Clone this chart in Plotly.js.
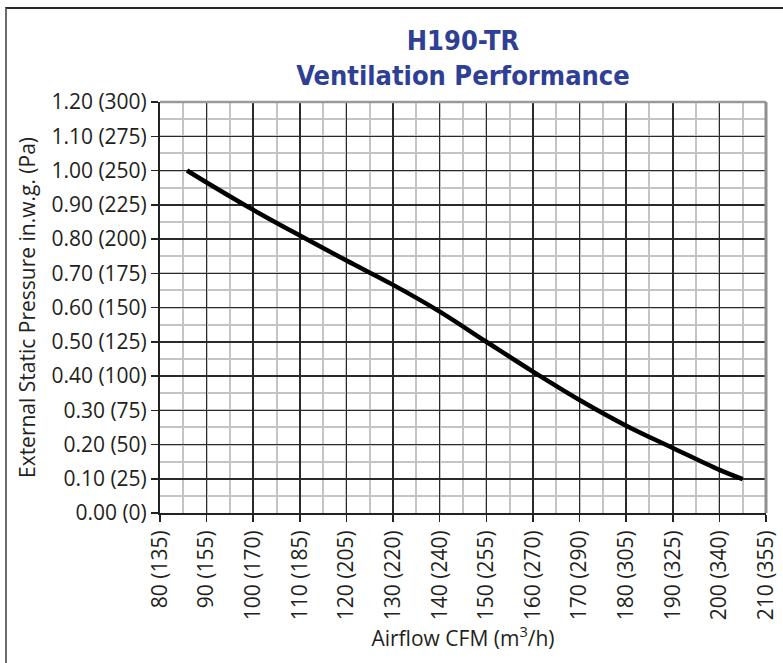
<!DOCTYPE html>
<html>
<head>
<meta charset="utf-8">
<script src="https://cdn.plot.ly/plotly-3.0.1.min.js"></script>
<style>
  html, body { margin: 0; padding: 0; background: #fff; }
  #chart { width: 783px; height: 663px; }
  #frame { position: absolute; left: 5px; top: 7px; width: 800px; height: 700px;
           border-left: 2px solid #6b6b6b; border-top: 2px solid #2a2a2a; pointer-events: none; }
</style>
</head>
<body>
<div id="chart"></div>
<div id="frame"></div>
<script>
// Data
const airflowCFM = [85.8, 90, 100, 110, 120, 130, 140, 150, 160, 170, 180, 190, 200, 205];
const staticPressure = [1.00, 0.965, 0.885, 0.81, 0.737, 0.666, 0.588, 0.50, 0.413, 0.33, 0.255, 0.19, 0.126, 0.099];

const xTickVals = [80, 90, 100, 110, 120, 130, 140, 150, 160, 170, 180, 190, 200, 210];
const xTickText = ['80 (135)', '90 (155)', '100 (170)', '110 (185)', '120 (205)', '130 (220)', '140 (240)',
                   '150 (255)', '160 (270)', '170 (290)', '180 (305)', '190 (325)', '200 (340)', '210 (355)'];
const yTickVals = [0, 0.1, 0.2, 0.3, 0.4, 0.5, 0.6, 0.7, 0.8, 0.9, 1.0, 1.1, 1.2];
const yTickText = ['0.00 (0)', '0.10 (25)', '0.20 (50)', '0.30 (75)', '0.40 (100)', '0.50 (125)', '0.60 (150)',
                   '0.70 (175)', '0.80 (200)', '0.90 (225)', '1.00 (250)', '1.10 (275)', '1.20 (300)'];

const FONT = '"Open Sans", "Noto Sans", sans-serif';
const TXT = '#231f20';
const FS = 21;

const trace = {
  x: airflowCFM,
  y: staticPressure,
  type: 'scatter',
  mode: 'lines',
  line: { color: '#000', width: 4.5, shape: 'spline', smoothing: 1 },
  hoverinfo: 'skip'
};

const layout = {
  width: 783,
  height: 663,
  paper_bgcolor: '#fff',
  plot_bgcolor: '#fff',
  showlegend: false,
  margin: { l: 160, r: 17, t: 102, b: 150, pad: 0 },
  font: { family: FONT, color: TXT, size: FS },
  title: {
    text: '<b>H190-TR</b><br><b>Ventilation Performance</b>',
    font: { family: '"Liberation Sans Narrow", "DejaVu Sans Condensed", "Roboto", sans-serif', size: 27, color: '#2e3f95' },
    x: 0.5, xref: 'paper', xanchor: 'center',
    y: 0.925, yref: 'container', yanchor: 'middle'
  },
  xaxis: {
    range: [80, 210],
    tickmode: 'array',
    tickvals: xTickVals,
    ticktext: xTickText,
    tickangle: -90,
    tickfont: { family: FONT, size: FS, color: TXT },
    ticks: 'outside', ticklen: 7, tickwidth: 1.5, tickcolor: '#222',
    showline: true, linecolor: '#222', linewidth: 2,
    showgrid: true, gridcolor: '#2a2a2a', gridwidth: 1.5,
    minor: { dtick: 5, tick0: 80, showgrid: true, gridcolor: '#c4c4c4', gridwidth: 2, ticks: '' },
    zeroline: false,
    fixedrange: true,
    title: { text: 'Airflow CFM (m<sup>3</sup>/h)', font: { family: FONT, size: FS, color: TXT }, standoff: 12 }
  },
  yaxis: {
    range: [0, 1.2],
    tickmode: 'array',
    tickvals: yTickVals,
    ticktext: yTickText,
    tickfont: { family: FONT, size: FS, color: TXT },
    ticks: 'outside', ticklen: 7, tickwidth: 1.5, tickcolor: '#222',
    showline: true, linecolor: '#222', linewidth: 2,
    showgrid: true, gridcolor: '#2a2a2a', gridwidth: 1.5,
    minor: { dtick: 0.05, tick0: 0, showgrid: true, gridcolor: '#c4c4c4', gridwidth: 2, ticks: '' },
    zeroline: false,
    fixedrange: true,
    title: { text: 'External Static Pressure in.w.g. (Pa)', font: { family: FONT, size: FS, color: TXT }, standoff: 10 }
  },
  shapes: [
    { type: 'line', xref: 'paper', yref: 'paper', x0: 0, x1: 1, y0: 1, y1: 1, line: { color: '#9a9a9a', width: 2.5 }, layer: 'above' },
    { type: 'line', xref: 'paper', yref: 'paper', x0: 1, x1: 1, y0: 0, y1: 1, line: { color: '#8f8f8f', width: 3 }, layer: 'above' }
  ]
};

Plotly.newPlot('chart', [trace], layout, { displayModeBar: false, staticPlot: true });
</script>
</body>
</html>
